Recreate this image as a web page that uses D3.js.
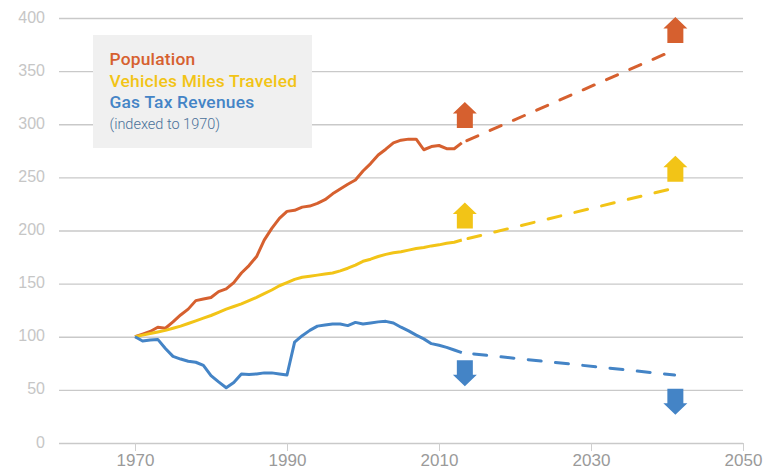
<!DOCTYPE html>
<html lang="en">
<head>
<meta charset="UTF-8">
<title>Population, VMT and Gas Tax Revenues</title>
<style>
    body { margin: 0; background: #fff; }
    svg { display: block; font-family: Roboto, Arial, sans-serif; }
    .grid line { stroke: #c9c9c9; stroke-width: 1.4px; }
    .grid path { display: none; }
    .grid text { fill: #c6c6c6; font-size: 16px; font-weight: 300; }
    .xaxis path { display: none; }
    .xaxis line { stroke: #cfcfcf; stroke-width: 1px; }
    .xaxis text { fill: #9a9a9a; font-size: 17px; font-weight: 300; }
    .series { fill: none; stroke-width: 3px; stroke-linejoin: round; }
    .legend text { font-size: 17.4px; font-weight: 500; letter-spacing: 0.2px; }
</style>
</head>
<body>
<svg id="chart" width="766" height="469"></svg>
<script src="https://d3js.org/d3.v7.min.js"></script>
<script>
    const years = d3.range(1970, 2014);
    const population = [100, 102.5, 105, 109, 108, 114, 120.5, 126, 134, 135.5, 137, 142.5, 145, 151, 160, 167, 175.5, 191, 202, 211.5, 218, 219, 222, 223, 225.5, 229, 234.5, 239, 243.5, 247.5, 256, 263, 271, 276.5, 282.5, 285, 286, 286, 276, 279, 280, 277, 277, 282.5];
    const vmt = [100, 101.5, 103, 104.5, 106, 108, 110, 112.5, 115, 117.5, 120, 123, 126, 128.5, 131, 134, 137, 140.5, 144, 148, 151, 154, 156, 157, 158, 159, 160, 162, 164.5, 167.5, 171, 173, 175.5, 177.5, 179, 180, 181.5, 183, 184, 185.5, 186.5, 188, 189, 191];
    const gasTax = [100, 96, 97, 97.5, 89, 81.5, 79, 77, 76, 73, 63.5, 57.5, 52, 57, 65, 64.5, 65, 66, 66, 65, 64, 95, 101, 106, 110, 111, 112, 112, 110.5, 113.5, 112, 113, 114, 114.5, 113, 109, 105.5, 101.5, 98, 93.5, 92, 90, 87.5, 85];

    const projYears = [2013, 2041];
    const populationProj = [282.5, 370];
    const vmtProj = [191, 240];
    const gasTaxProj = [85, 64];

    // arrow base value (where the shaft ends) at each projection marker
    const arrowYears = [2013.4, 2041.1];
    const populationArrows = [296.5, 376.5];
    const vmtArrows = [202, 246];
    const gasTaxArrows = [78, 51];

    const xTicks = [1970, 1990, 2010, 2030, 2050];
    const yTicks = [0, 50, 100, 150, 200, 250, 300, 350, 400];
    const legendLines = ["Population", "Vehicles Miles Traveled", "Gas Tax Revenues"];

    const colors = { pop: "#d6602f", vmt: "#f2c417", gas: "#4484c6" };

    const svg = d3.select("#chart");
    const x = d3.scaleLinear().domain([1960, 2050]).range([59, 743]);
    const y = d3.scaleLinear().domain([0, 400]).range([443, 18]);

    svg.append("g")
        .attr("class", "grid")
        .attr("transform", "translate(59,0)")
        .call(d3.axisLeft(y).tickValues(yTicks).tickSize(-684).tickPadding(14))
        .call(g => g.selectAll("text").attr("dy", "0.25em"));

    svg.append("g")
        .attr("class", "xaxis")
        .attr("transform", "translate(0,443)")
        .call(d3.axisBottom(x).tickValues(xTicks).tickFormat(d3.format("d")).tickSize(8).tickPadding(3));

    const line = d3.line().x(d => x(d[0])).y(d => y(d[1]));

    function drawSeries(values, proj, color, dash, offset) {
        svg.append("path")
            .attr("class", "series")
            .attr("stroke", color)
            .attr("d", line(d3.zip(years, values)));
        svg.append("path")
            .attr("class", "series")
            .attr("stroke", color)
            .attr("stroke-linecap", "round")
            .attr("stroke-dasharray", dash)
            .attr("stroke-dashoffset", offset)
            .attr("d", line(d3.zip(projYears, proj)));
    }

    drawSeries(population, populationProj, colors.pop, "12 13.4", 19.9);
    drawSeries(vmt, vmtProj, colors.vmt, "13 14.5", 21.1);
    drawSeries(gasTax, gasTaxProj, colors.gas, "13 14.4", 15.4);

    // block arrows, dir -1 points up, +1 points down
    function drawArrow(year, value, color, dir) {
        const cx = x(year), base = y(value);
        const shaft = 14.5 * dir, tip = 26 * dir;
        const pts = [[-8, 0], [8, 0], [8, shaft], [12, shaft], [0, tip], [-12, shaft], [-8, shaft]];
        svg.append("path")
            .attr("fill", color)
            .attr("d", "M" + pts.map(p => [cx + p[0], base + p[1]]).join("L") + "Z");
    }

    arrowYears.forEach((yr, i) => {
        drawArrow(yr, populationArrows[i], colors.pop, -1);
        drawArrow(yr, vmtArrows[i], colors.vmt, -1);
        drawArrow(yr, gasTaxArrows[i], colors.gas, 1);
    });

    const legend = svg.append("g").attr("class", "legend");
    legend.append("rect")
        .attr("x", 93).attr("y", 35)
        .attr("width", 219).attr("height", 113)
        .attr("fill", "#f0f0f0");

    const legendColors = [colors.pop, colors.vmt, colors.gas];
    legend.selectAll("text.name")
        .data(legendLines)
        .enter().append("text")
        .attr("class", "name")
        .attr("x", 109.5)
        .attr("y", (d, i) => 65 + i * 21.5)
        .attr("fill", (d, i) => legendColors[i])
        .text(d => d);

    legend.append("text")
        .attr("x", 109.5).attr("y", 129)
        .attr("fill", "#4a7099")
        .style("font-size", "14.5px")
        .style("font-weight", 300)
        .style("letter-spacing", "0")
        .text("(indexed to 1970)");
</script>
</body>
</html>
